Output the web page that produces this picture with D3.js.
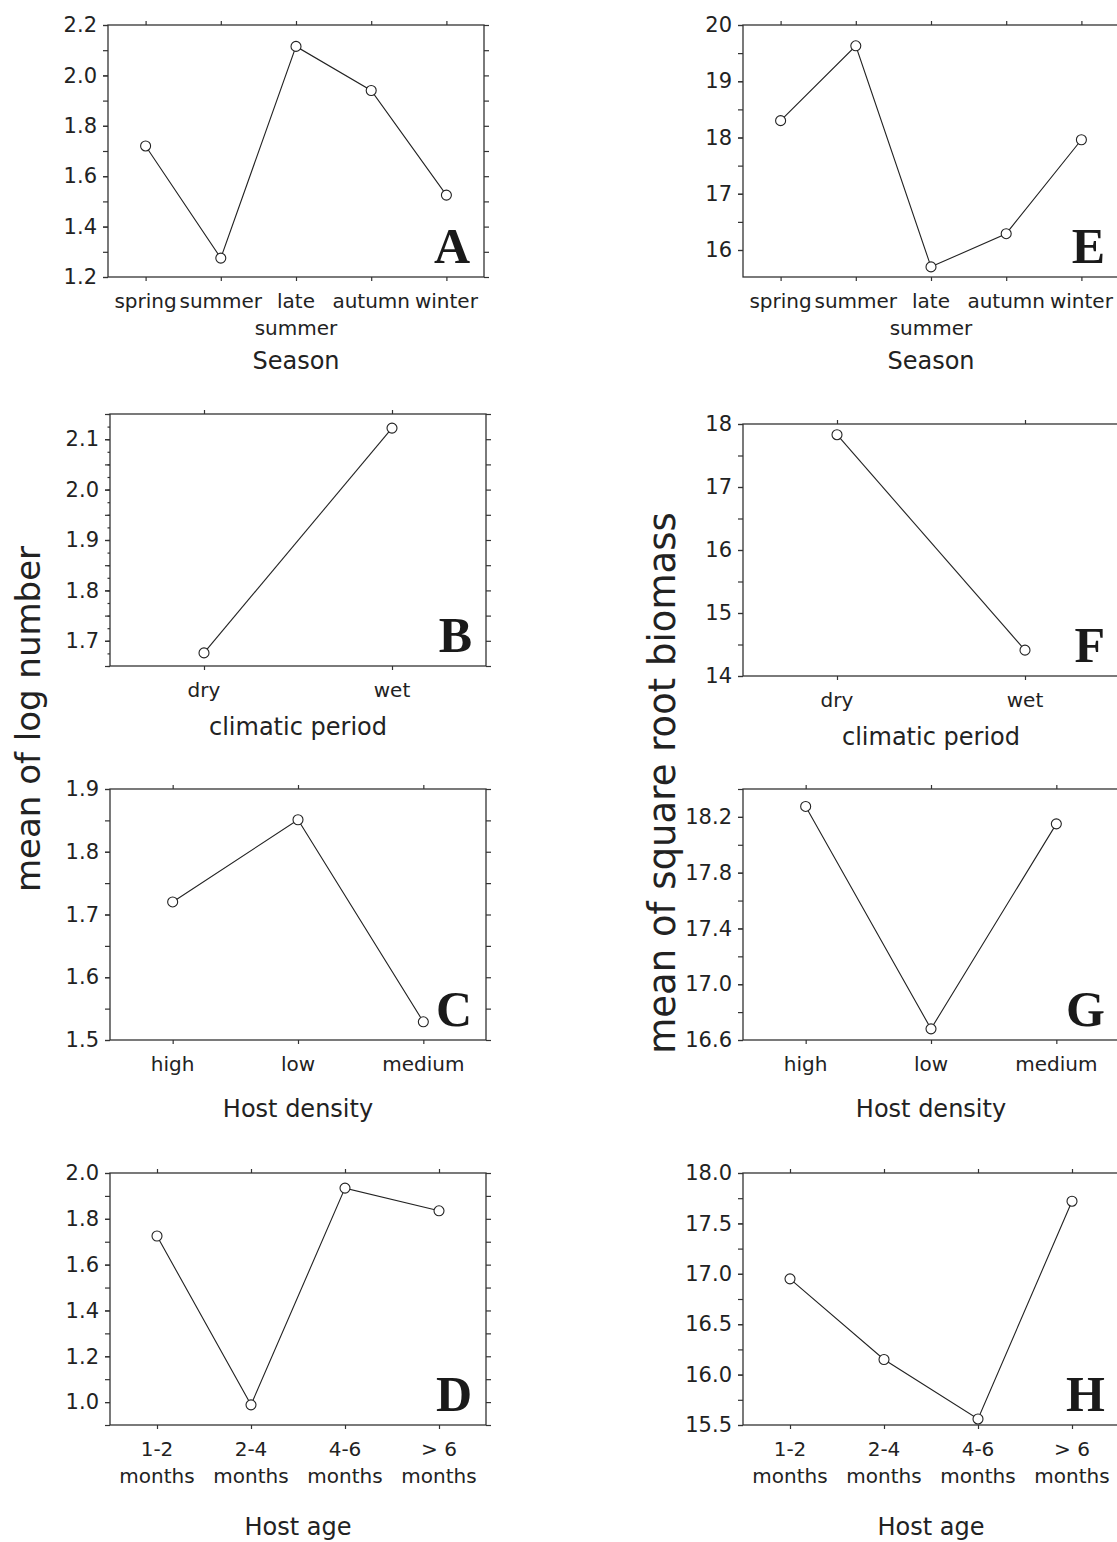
<!DOCTYPE html>
<html>
<head>
<meta charset="utf-8">
<script src="https://cdn.jsdelivr.net/npm/d3@7"></script>
<style>
  html, body { margin: 0; padding: 0; background: #fff; }
  svg { display: block; }
</style>
</head>
<body>
<div id="main"></div>
<script>
// categories
const seasons = ['spring', 'summer', 'late|summer', 'autumn', 'winter'];
const periods = ['dry', 'wet'];
const densities = ['high', 'low', 'medium'];
const ages = ['1-2|months', '2-4|months', '4-6|months', '> 6|months'];

// mean of log number
const logSeason = [1.72, 1.275, 2.115, 1.94, 1.525];
const logPeriod = [1.676, 2.122];
const logDensity = [1.72, 1.851, 1.529];
const logAge = [1.725, 0.988, 1.934, 1.835];

// mean of square root biomass
const bioSeason = [18.30, 19.63, 15.70, 16.29, 17.96];
const bioPeriod = [17.83, 14.41];
const bioDensity = [18.275, 16.68, 18.15];
const bioAge = [16.95, 16.15, 15.56, 17.72];

const width = 1117;
const height = 1542;

const svg = d3.select('#main').append('svg')
    .attr('width', width)
    .attr('height', height);

svg.append('rect')
    .attr('width', width)
    .attr('height', height)
    .attr('fill', '#fff');

function steps(lo, hi, step) {
  const n = Math.round((hi - lo) / step);
  return d3.range(n + 1).map(i => +(lo + i * step).toFixed(4));
}

const panels = [
  {letter: 'A', cats: seasons, values: logSeason, title: 'Season',
   left: 108, top: 25, bottom: 277, titleY: 369,
   domain: [1.2, 2.2], labels: steps(1.2, 2.2, 0.2), ticks: steps(1.2, 2.2, 0.1), fmt: '.1f'},
  {letter: 'B', cats: periods, values: logPeriod, title: 'climatic period',
   left: 110, top: 414, bottom: 666, titleY: 735,
   domain: [1.65, 2.15], labels: steps(1.7, 2.1, 0.1), ticks: steps(1.65, 2.15, 0.05),
   minor: steps(1.65, 2.15, 0.025), fmt: '.1f'},
  {letter: 'C', cats: densities, values: logDensity, title: 'Host density',
   left: 110, top: 789, bottom: 1040, titleY: 1117,
   domain: [1.5, 1.9], labels: steps(1.5, 1.9, 0.1), ticks: steps(1.5, 1.9, 0.05), fmt: '.1f'},
  {letter: 'D', cats: ages, values: logAge, title: 'Host age',
   left: 110, top: 1173, bottom: 1425, titleY: 1535,
   domain: [0.9, 2.0], labels: steps(1.0, 2.0, 0.2), ticks: steps(0.9, 2.0, 0.1), fmt: '.1f'},
  {letter: 'E', cats: seasons, values: bioSeason, title: 'Season',
   left: 743, top: 25, bottom: 277, titleY: 369,
   domain: [15.52, 20], labels: steps(16, 20, 1), ticks: steps(16, 20, 0.5), fmt: 'd'},
  {letter: 'F', cats: periods, values: bioPeriod, title: 'climatic period',
   left: 743, top: 424, bottom: 676, titleY: 745,
   domain: [14, 18], labels: steps(14, 18, 1), ticks: steps(14, 18, 0.5), fmt: 'd'},
  {letter: 'G', cats: densities, values: bioDensity, title: 'Host density',
   left: 743, top: 789, bottom: 1040, titleY: 1117,
   domain: [16.6, 18.4], labels: steps(16.6, 18.2, 0.4), ticks: steps(16.6, 18.4, 0.2), fmt: '.1f'},
  {letter: 'H', cats: ages, values: bioAge, title: 'Host age',
   left: 743, top: 1173, bottom: 1425, titleY: 1535,
   domain: [15.5, 18.0], labels: steps(15.5, 18.0, 0.5), ticks: steps(15.5, 18.0, 0.25), fmt: '.1f'},
];

const plotWidth = 376;
const axisColor = '#333';
const font = '"DejaVu Sans", sans-serif';

panels.forEach(drawPanel);

function drawPanel(p) {
  const right = p.left + plotWidth;

  const x = d3.scalePoint()
      .domain(p.cats)
      .range([p.left, right])
      .padding(0.5);

  const y = d3.scaleLinear()
      .domain(p.domain)
      .range([p.bottom, p.top]);

  const g = svg.append('g');

  // left minor ticks (short)
  if (p.minor) {
    g.append('g')
        .attr('transform', `translate(${p.left},0)`)
        .call(d3.axisLeft(y).tickValues(p.minor).tickSize(2.5).tickSizeOuter(0).tickFormat(''))
        .call(a => a.select('.domain').remove());
  }

  g.append('g')
      .attr('transform', `translate(${p.left},0)`)
      .call(d3.axisLeft(y).tickValues(p.ticks).tickSize(5).tickSizeOuter(0).tickFormat(''))
      .call(a => a.select('.domain').remove());

  g.append('g')
      .attr('transform', `translate(${p.left},0)`)
      .call(d3.axisLeft(y).tickValues(p.labels).tickSize(5).tickSizeOuter(0)
            .tickPadding(6).tickFormat(d3.format(p.fmt)))
      .call(a => a.select('.domain').remove());

  g.append('g')
      .attr('transform', `translate(${right},0)`)
      .call(d3.axisRight(y).tickValues(p.ticks).tickSize(5).tickSizeOuter(0).tickFormat(''))
      .call(a => a.select('.domain').remove());

  g.append('g')
      .attr('transform', `translate(0,${p.top})`)
      .call(d3.axisTop(x).tickSize(4).tickSizeOuter(0).tickFormat(''))
      .call(a => a.select('.domain').remove());

  g.append('g')
      .attr('transform', `translate(0,${p.bottom})`)
      .call(d3.axisBottom(x).tickSize(4).tickSizeOuter(0).tickFormat(''))
      .call(a => a.select('.domain').remove());

  g.selectAll('.tick line')
      .attr('stroke', axisColor)
      .attr('stroke-width', 1.2);

  g.selectAll('.tick text')
      .attr('fill', '#222')
      .style('font-family', font)
      .style('font-size', '21px');

  g.append('rect')
      .attr('x', p.left)
      .attr('y', p.top)
      .attr('width', plotWidth)
      .attr('height', p.bottom - p.top)
      .attr('fill', 'none')
      .attr('stroke', axisColor)
      .attr('stroke-width', 1.3);

  // category labels (may wrap on two lines)
  g.append('g')
      .selectAll('text')
      .data(p.cats)
      .join('text')
        .attr('x', d => x(d))
        .attr('y', p.bottom + 31)
        .attr('text-anchor', 'middle')
        .attr('fill', '#222')
        .style('font-family', font)
        .style('font-size', '20px')
        .each(function(d) {
          const lines = d.split('|');
          d3.select(this).selectAll('tspan')
            .data(lines)
            .join('tspan')
              .attr('x', x(d))
              .attr('dy', (l, i) => i === 0 ? 0 : 27)
              .text(l => l);
        });

  g.append('text')
      .attr('x', (p.left + right) / 2)
      .attr('y', p.titleY)
      .attr('text-anchor', 'middle')
      .attr('fill', '#222')
      .style('font-family', font)
      .style('font-size', '24px')
      .text(p.title);

  const line = d3.line()
      .x((d, i) => x(p.cats[i]))
      .y(d => y(d));

  g.append('path')
      .datum(p.values)
      .attr('d', line)
      .attr('fill', 'none')
      .attr('stroke', '#222')
      .attr('stroke-width', 1.1);

  g.selectAll('circle')
      .data(p.values)
      .join('circle')
        .attr('cx', (d, i) => x(p.cats[i]))
        .attr('cy', d => y(d))
        .attr('r', 5)
        .attr('fill', '#fff')
        .attr('stroke', '#222')
        .attr('stroke-width', 1.1);

  g.append('text')
      .attr('x', right - 14)
      .attr('y', p.bottom - 14)
      .attr('text-anchor', 'end')
      .attr('fill', '#1a1a1a')
      .style('font-family', '"Liberation Serif", serif')
      .style('font-weight', 'bold')
      .style('font-size', '50px')
      .text(p.letter);
}

// big y titles
svg.append('text')
    .attr('transform', 'translate(40,719) rotate(-90)')
    .attr('text-anchor', 'middle')
    .attr('fill', '#222')
    .style('font-family', font)
    .style('font-size', '34px')
    .text('mean of log number');

svg.append('text')
    .attr('transform', 'translate(675,783) rotate(-90)')
    .attr('text-anchor', 'middle')
    .attr('fill', '#222')
    .style('font-family', font)
    .style('font-size', '37px')
    .text('mean of square root biomass');
</script>
</body>
</html>
